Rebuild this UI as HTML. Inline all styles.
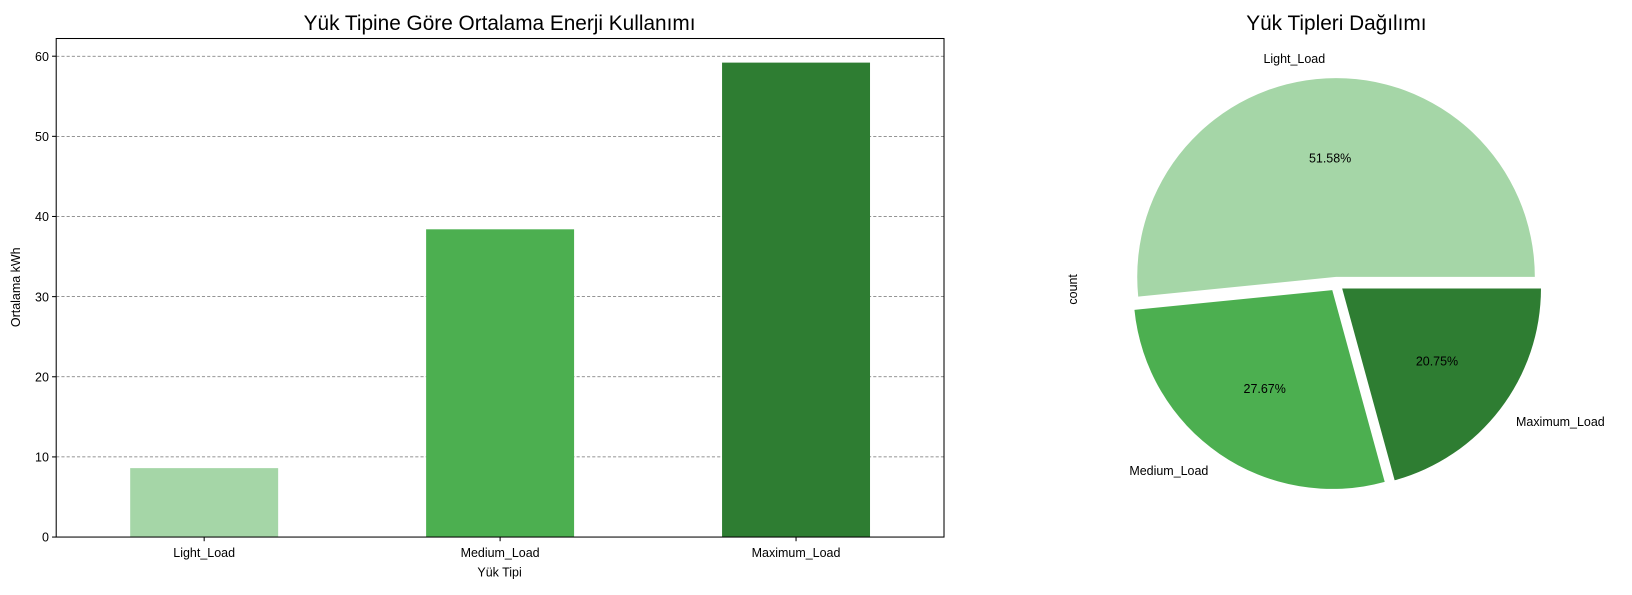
<!DOCTYPE html>
<html><head><meta charset="utf-8"><style>
body{margin:0;background:#fff;}
svg text{font-family:"Liberation Sans","DejaVu Sans",sans-serif;}
</style></head><body>
<svg id="s" width="1632" height="590" xmlns="http://www.w3.org/2000/svg">
<g transform="scale(1.0408)">
<text x="480" y="29" font-size="20" text-anchor="middle">Yük Tipine Göre Ortalama Enerji Kullanımı</text>
<text x="1284" y="29" font-size="20" text-anchor="middle">Yük Tipleri Dağılımı</text>
<g id="bar"></g>
<g id="pie"></g>
</g>
</svg>
<script>
const categories=["Light_Load","Medium_Load","Maximum_Load"];
const barValues=[8.6,38.4,59.2];
const yTicks=[0,10,20,30,40,50,60];
const pieValues=[51.58,27.67,20.75];
const colors=["#a5d6a7","#4caf50","#2e7d32"];
const NS="http://www.w3.org/2000/svg";
function mk(p,t,a,txt){const e=document.createElementNS(NS,t);for(const k in a)e.setAttribute(k,a[k]);if(txt!=null)e.textContent=txt;p.appendChild(e);return e;}
const bar=document.getElementById('bar');
const L=54,R=907,T=37,B=516;
const y=v=>B-v*(516-54)/60;
const x=i=>L+(R-L)*(i+0.5)/categories.length;
yTicks.forEach(t=>{
 if(t>0){const g=mk(bar,'line',{x1:L,x2:R,y1:y(t),y2:y(t),stroke:'#707070','stroke-width':0.7,'stroke-dasharray':'3,2'});
 }
 const tk=mk(bar,'line',{x1:L-4,x2:L,y1:y(t),y2:y(t),stroke:'#000'});
 
 const lb=mk(bar,'text',{x:L-7,y:y(t)+4.5,'font-size':12,'text-anchor':'end'},t);
 
});
const bw=(R-L)/categories.length*0.5;
categories.forEach((c,i)=>{
 const r=mk(bar,'rect',{x:x(i)-bw/2,y:y(barValues[i]),width:bw,height:B-y(barValues[i]),fill:colors[i]});
 
 const tk=mk(bar,'line',{x1:x(i),x2:x(i),y1:B,y2:B+4,stroke:'#000'});
 
 const lb=mk(bar,'text',{x:x(i),y:B+19,'font-size':12,'text-anchor':'middle'},c);
 
});
const fr=mk(bar,'rect',{x:L,y:T,width:R-L,height:B-T,fill:'none',stroke:'#000','stroke-width':1});

const xt=mk(bar,'text',{x:480,y:554,'font-size':12,'text-anchor':'middle'},'Yük Tipi');

const yt=mk(bar,'text',{x:19,y:276,'font-size':12,'text-anchor':'middle',transform:'rotate(-90 19 276)'},'Ortalama kWh');


const pie=document.getElementById('pie');
const cx=1284,cy=273,rad=191,ex=7;
const total=pieValues.reduce((a,b)=>a+b,0);
let a0=0;
pieValues.forEach((v,i)=>{
 const a1=a0+v/total*2*Math.PI, m=(a0+a1)/2;
 const ox=cx+ex*Math.cos(m), oy=cy-ex*Math.sin(m);
 const p=(a)=>[ox+rad*Math.cos(a),oy-rad*Math.sin(a)];
 const [x0,y0]=p(a0),[x1,y1]=p(a1);
 const s=mk(pie,'path',{d:`M${ox},${oy}L${x0},${y0}A${rad},${rad} 0 ${a1-a0>Math.PI?1:0} 0 ${x1},${y1}Z`,fill:colors[i]});
 
 const px=ox+0.6*rad*Math.cos(m),py=oy-0.6*rad*Math.sin(m);
 const pt=mk(pie,'text',{x:px,y:py+4.5,'font-size':12,'text-anchor':'middle'},v.toFixed(2)+'%');
 
 const lx=ox+1.1*rad*Math.cos(m),ly=oy-1.1*rad*Math.sin(m);
 const anc=Math.cos(m)>0?'start':'end';
 const lt=mk(pie,'text',{x:lx,y:ly+4.5,'font-size':12,'text-anchor':anc},categories[i]);
 
 a0=a1;
});
const ct=mk(pie,'text',{x:1035,y:278,'font-size':12,'text-anchor':'middle',transform:'rotate(-90 1035 278)'},'count');

</script>
</body></html>
